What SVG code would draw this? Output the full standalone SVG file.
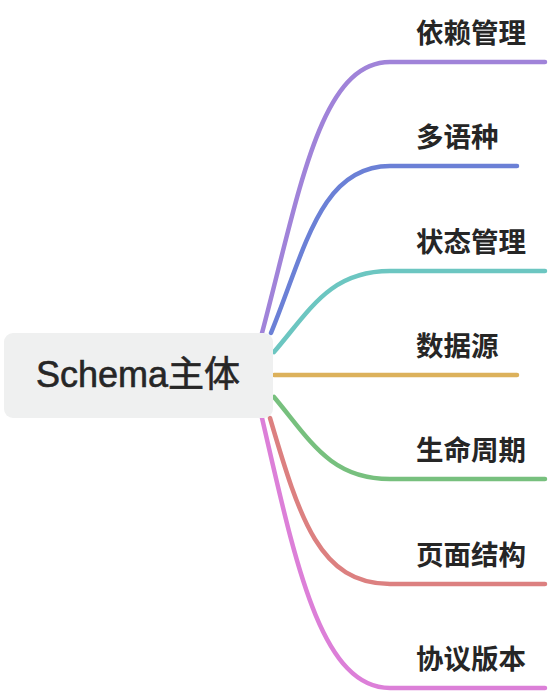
<svg xmlns="http://www.w3.org/2000/svg" width="548" height="694" viewBox="0 0 548 694">
<style>
.c{fill:none;stroke-width:4.5;stroke-linecap:round}
.t{font-family:"Noto Sans CJK SC","Noto Sans",sans-serif;font-size:27.5px;font-weight:700;fill:#262626}
.m{font-family:"Liberation Sans","Noto Sans CJK SC",sans-serif;font-size:36px;fill:#262626;stroke:#262626;stroke-width:0.6}
</style>
<rect width="548" height="694" fill="#fff"/>
<g id="connectors">
<path class="c" stroke="#a083d9" d="M262,333 C300,190 320,62 390,62 L545,62"/>
<path class="c" stroke="#6b80d6" d="M271,333 C305,250 320,166 390,166 L517,166"/>
<path class="c" stroke="#6cc6c1" d="M274,352 C310,310 330,271 390,271 L545,271"/>
<path class="c" stroke="#dcb15b" d="M274,375 L517,375"/>
<path class="c" stroke="#77c07e" d="M274,397 C310,440 330,479 390,479 L545,479"/>
<path class="c" stroke="#dc8080" d="M270,418 C300,520 320,584 390,584 L545,584"/>
<path class="c" stroke="#dc7fd8" d="M262,418 C295,560 320,688 390,688 L545,688"/>
</g>
<g id="root">
<rect x="4" y="333" width="269" height="85" rx="9" fill="#eff0f0"/>
<text class="m" x="138" y="387" text-anchor="middle">Schema主体</text>
</g>
<g id="n1"><text class="t" x="416" y="43">依赖管理</text></g>
<g id="n2"><text class="t" x="416" y="147">多语种</text></g>
<g id="n3"><text class="t" x="416" y="252">状态管理</text></g>
<g id="n4"><text class="t" x="416" y="356">数据源</text></g>
<g id="n5"><text class="t" x="416" y="460">生命周期</text></g>
<g id="n6"><text class="t" x="416" y="565">页面结构</text></g>
<g id="n7"><text class="t" x="416" y="669">协议版本</text></g>
</svg>
